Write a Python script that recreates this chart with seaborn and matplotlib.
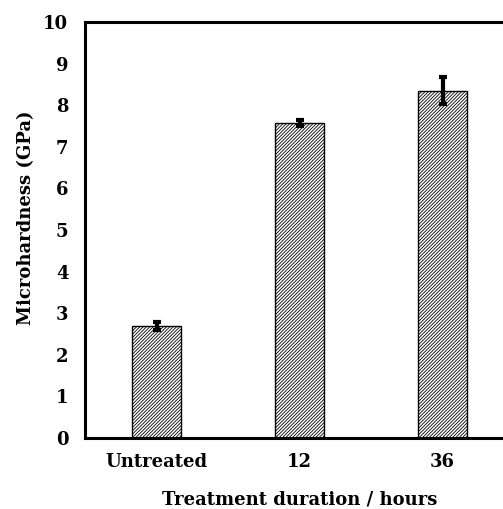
import matplotlib
matplotlib.use("Agg")
import matplotlib.pyplot as plt
import seaborn as sns
import pandas as pd
import numpy as np

categories = ["Untreated", "12", "36"]
hardness = [2.70, 7.58, 8.35]
errors = [0.10, 0.07, 0.32]
yticks = [0, 1, 2, 3, 4, 5, 6, 7, 8, 9, 10]

sns.set_theme(style="white")
plt.rcParams['font.family'] = ['DejaVu Serif']
plt.rcParams['hatch.linewidth'] = 0.6
plt.rcParams['hatch.color'] = '#4a4a4a'
plt.rcParams['text.color'] = 'black'
plt.rcParams['axes.labelcolor'] = 'black'
plt.rcParams['xtick.color'] = 'black'
plt.rcParams['ytick.color'] = 'black'

df = pd.DataFrame({"cat": categories, "val": hardness})

fig = plt.figure(figsize=(5.03, 5.09), dpi=100)
ax = fig.add_axes([85/503, 71/509, 429/503, 416/509])

sns.barplot(data=df, x="cat", y="val", ax=ax, color="white", width=0.34,
            edgecolor="black", linewidth=1.0, errorbar=None, saturation=1)
for p in ax.patches:
    p.set_hatch("//////////")
    p.set_edgecolor("black")

ax.errorbar(np.arange(len(categories)), hardness, yerr=errors, fmt="none",
            ecolor="black", elinewidth=3, capsize=3, capthick=3, zorder=5)

ax.set_xlim(-0.5, 2.5)
ax.set_ylim(0, 10)
ax.set_yticks(yticks)
ax.set_yticklabels([str(t) for t in yticks], fontsize=13, fontweight="bold")
ax.set_xticks(range(len(categories)))
ax.set_xticklabels(categories, fontsize=13, fontweight="bold")
ax.set_xticks([-0.5, 0.5, 1.5, 2.5], minor=True)
ax.tick_params(axis="x", which="major", length=0, pad=11)
ax.tick_params(axis="x", which="minor", direction="in", length=5, width=1)
ax.tick_params(axis="y", direction="in", length=5, width=1, pad=12)

for s in ["left", "bottom", "top", "right"]:
    ax.spines[s].set_linewidth(2.2)
    ax.spines[s].set_color("black")

ax.set_xlabel("Treatment duration / hours", fontsize=13, fontweight="bold", labelpad=14)
ax.set_ylabel("Microhardness (GPa)", fontsize=13, fontweight="bold", labelpad=6, y=0.53)

fig.savefig("out.png", dpi=100)
